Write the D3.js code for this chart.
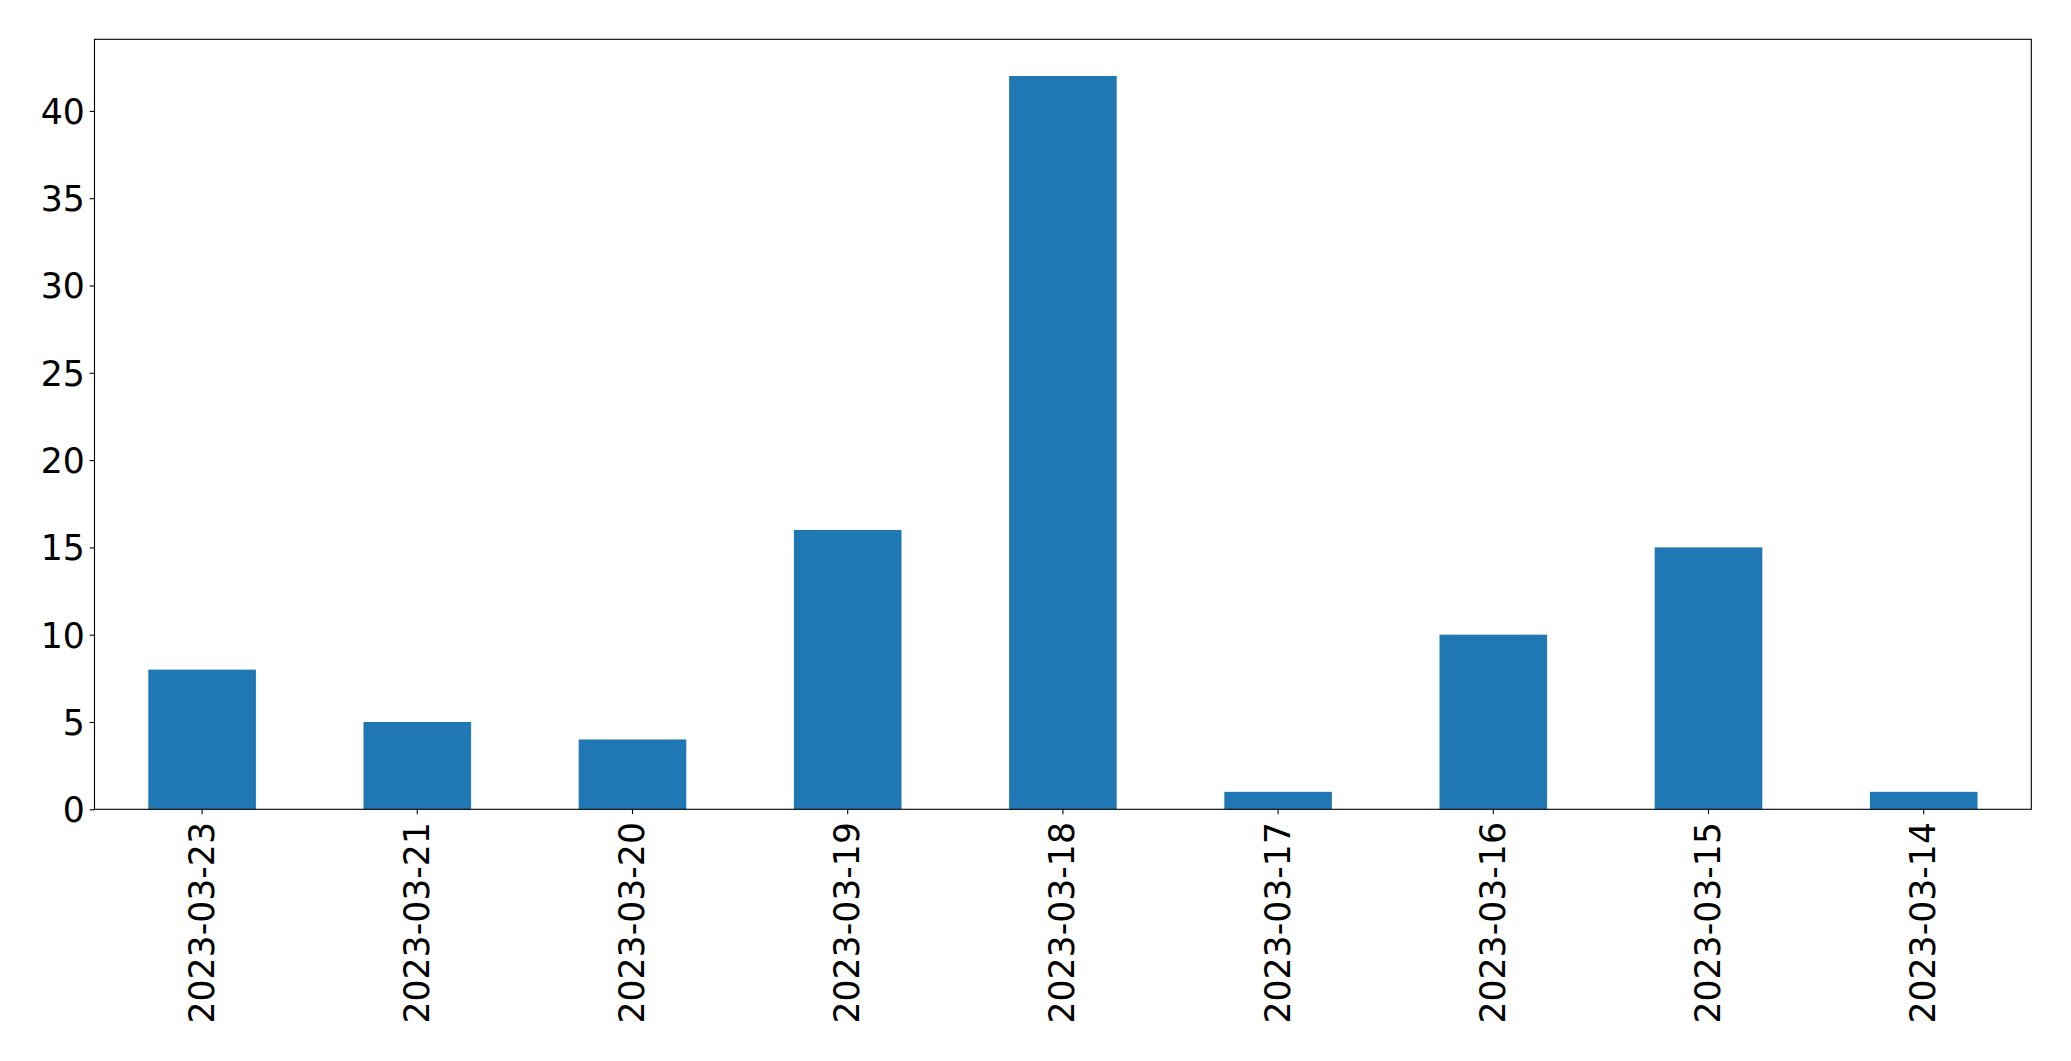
<!DOCTYPE html>
<html>
<head>
<meta charset="utf-8">
<script src="https://cdn.jsdelivr.net/npm/d3@7"></script>
<style>
  html, body { margin: 0; padding: 0; background: #fff; }
  svg { display: block; }
  text { font-family: "DejaVu Sans", sans-serif; fill: #000; }
</style>
</head>
<body>
<div id="chart"></div>
<script>
const categories = ["2023-03-23", "2023-03-21", "2023-03-20", "2023-03-19", "2023-03-18", "2023-03-17", "2023-03-16", "2023-03-15", "2023-03-14"];
const values = [8, 5, 4, 16, 42, 1, 10, 15, 1];
const yTicks = [0, 5, 10, 15, 20, 25, 30, 35, 40];

const W = 2071, H = 1061;
const margin = { left: 94.5, top: 39.3, right: W - 2031.3, bottom: H - 809.3 };
const iw = W - margin.left - margin.right;
const ih = H - margin.top - margin.bottom;
const fontPx = 34.7;
const tickLen = 4.86, pad = 4.86;

const svg = d3.select("#chart").append("svg").attr("width", W).attr("height", H);
const g = svg.append("g").attr("transform", `translate(${margin.left},${margin.top})`);

const x = d3.scaleBand().domain(categories).range([0, iw]).paddingInner(0.5).paddingOuter(0.25);
const y = d3.scaleLinear().domain([0, d3.max(values) * 1.05]).range([ih, 0]);

g.selectAll("rect.bar").data(categories).join("rect")
  .attr("class", "bar")
  .attr("x", d => x(d))
  .attr("width", x.bandwidth())
  .attr("y", (d, i) => y(values[i]))
  .attr("height", (d, i) => ih - y(values[i]))
  .attr("fill", "#1f77b4");

// y axis
const yAxis = g.append("g").call(d3.axisLeft(y).tickValues(yTicks).tickSize(tickLen).tickPadding(pad).tickFormat(d3.format("d")));
yAxis.select(".domain").remove();
yAxis.selectAll(".tick line").attr("stroke", "#000").attr("stroke-width", 1.1);
yAxis.selectAll(".tick text").style("font-size", fontPx + "px").style("font-family", "DejaVu Sans").attr("fill", "#000").attr("dy", "0.36em");

// x axis
const xAxis = g.append("g").attr("transform", `translate(0,${ih})`)
  .call(d3.axisBottom(x).tickSize(tickLen).tickPadding(pad));
xAxis.select(".domain").remove();
xAxis.selectAll(".tick line").attr("stroke", "#000").attr("stroke-width", 1.1);
xAxis.selectAll(".tick text")
  .style("font-size", fontPx + "px").style("font-family", "DejaVu Sans").attr("fill", "#000")
  .attr("text-anchor", "end")
  .attr("y", 0).attr("dy", 0)
  .attr("transform", `translate(-0.5, ${tickLen + pad + 3}) rotate(-90)`)
  .attr("dominant-baseline", "central");

// frame
g.append("rect").attr("x", 0).attr("y", 0).attr("width", iw).attr("height", ih)
  .attr("fill", "none").attr("stroke", "#000").attr("stroke-width", 1.1);
</script>
</body>
</html>
